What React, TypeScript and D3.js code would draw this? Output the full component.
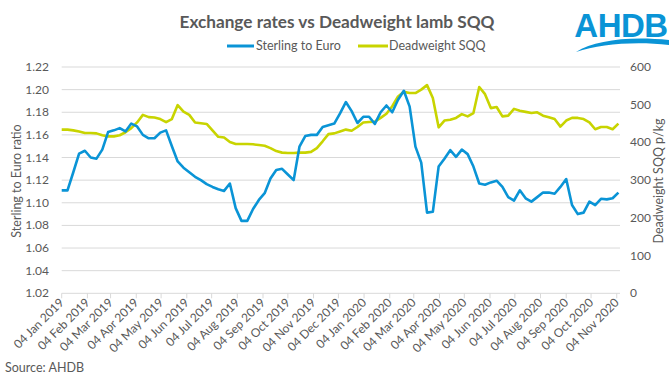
import React from "react";
import * as d3 from "d3";

const startDate = new Date(2019, 0, 4);
const endDate = new Date(2020, 10, 6);

const sterlingEuro = [
  1.111, 1.111, 1.127, 1.1435, 1.146, 1.14, 1.139, 1.147, 1.1625, 1.164,
  1.166, 1.163, 1.17, 1.1675, 1.16, 1.157, 1.157, 1.162, 1.164, 1.15,
  1.1365, 1.131, 1.127, 1.123, 1.12, 1.1165, 1.114, 1.112, 1.1105, 1.117,
  1.0953, 1.084, 1.084, 1.0945, 1.1025, 1.1085, 1.1215, 1.129, 1.13, 1.125,
  1.12, 1.1496, 1.159, 1.16, 1.16, 1.167, 1.1685, 1.17, 1.179, 1.189,
  1.181, 1.1705, 1.176, 1.176, 1.1697, 1.18, 1.186, 1.18, 1.191, 1.199,
  1.185, 1.1496, 1.1355, 1.0913, 1.092, 1.132, 1.139, 1.1465, 1.1406, 1.147,
  1.143, 1.132, 1.117, 1.116, 1.118, 1.1195, 1.114, 1.105, 1.102, 1.111,
  1.104, 1.101, 1.105, 1.109, 1.109, 1.108, 1.114, 1.121, 1.098, 1.09,
  1.0913, 1.101, 1.098, 1.1035, 1.103, 1.104, 1.109,
];

const deadweightSQQ = [
  434, 434, 432, 429, 425, 425, 424, 419, 416, 416,
  419, 427, 438, 453, 473, 467, 466, 462, 454, 462,
  499, 482, 473, 453, 451, 449, 432, 415, 413, 401,
  396, 396, 396, 395, 393, 391, 385, 377, 373, 372,
  372, 373, 373, 375, 385, 403, 422, 424, 429, 434,
  431, 441, 453, 454, 455, 465, 476, 496, 522, 534,
  531, 531, 540, 552, 518, 440, 458, 460, 465, 475,
  469, 478, 547, 528, 491, 494, 469, 471, 489, 484,
  481, 478, 480, 471, 467, 462, 442, 458, 465, 465,
  462, 453, 435, 441, 441, 435, 450,
];

const dates = sterlingEuro.map((_, i) => d3.timeDay.offset(startDate, i * 7));
const tickDates = d3.timeMonth
  .range(new Date(2019, 0, 1), new Date(2020, 11, 1))
  .map((m) => d3.timeDay.offset(m, 3));
const leftTicks = [1.02, 1.04, 1.06, 1.08, 1.1, 1.12, 1.14, 1.16, 1.18, 1.2, 1.22];
const rightTicks = [0, 100, 200, 300, 400, 500, 600];

const seriesNames = ["Sterling to Euro", "Deadweight SQQ"];
const colors = ["#0A94D6", "#C8D400"];

const FONT = "Lato, 'Open Sans', sans-serif";
const GREY = "#595959";

export default function App() {
  const left = 61.7;
  const right = 618.4;
  const top = 67;
  const bottom = 293.3;

  const x = d3.scaleTime().domain([startDate, endDate]).range([left, right]);
  const yL = d3.scaleLinear().domain([1.02, 1.22]).range([bottom, top]);
  const yR = d3.scaleLinear().domain([0, 600]).range([bottom, top]);

  const blueLine = d3
    .line<number>()
    .x((_, i) => x(dates[i]))
    .y((d) => yL(d))(sterlingEuro) as string;
  const greenLine = d3
    .line<number>()
    .x((_, i) => x(dates[i]))
    .y((d) => yR(d))(deadweightSQQ) as string;

  const fmt = d3.timeFormat("%d %b %Y");

  return (
    <svg
      width={672}
      height={378}
      style={{ position: "absolute", left: 0, top: 0, background: "#fff" }}
      fontFamily={FONT}
    >
      <rect width={672} height={378} fill="#fff" />
      {/* Title */}
      <text x={337} y={28} textAnchor="middle" fontSize={17.2} fontWeight={700} fill={GREY}>
        Exchange rates vs Deadweight lamb SQQ
      </text>

      {/* Logo */}
      <text x={621} y={37} textAnchor="middle" fontSize={33} fontWeight={700} fill="#0A94D6"
        fontFamily="'Liberation Sans', Arial, sans-serif" letterSpacing={-0.5}>
        AHDB
      </text>
      <path d="M576,52 C595,40 630,36 669,40 L669,45 C635,41 600,44 576,52 Z" fill="#0A94D6" />

      {/* Legend */}
      <g fontSize={12.5} fill={GREY}>
        <line x1={227} x2={254} y1={46} y2={46} stroke={colors[0]} strokeWidth={3} />
        <text x={256} y={50}>{seriesNames[0]}</text>
        <line x1={358} x2={388} y1={46} y2={46} stroke={colors[1]} strokeWidth={3} />
        <text x={389} y={50}>{seriesNames[1]}</text>
      </g>

      {/* Gridlines */}
      {leftTicks.map((t) => (
        <line key={t} x1={left} x2={620} y1={yL(t)} y2={yL(t)} stroke="#d9d9d9" strokeWidth={1} />
      ))}
      {/* X ticks */}
      {tickDates.map((d, i) => (
        <line key={i} x1={x(d)} x2={x(d)} y1={bottom} y2={bottom + 5} stroke="#d9d9d9" strokeWidth={1} />
      ))}

      {/* Left axis labels */}
      <g fontSize={12} fill={GREY} textAnchor="end">
        {leftTicks.map((t) => (
          <text key={t} x={49} y={yL(t) + 4}>{t.toFixed(2)}</text>
        ))}
      </g>
      {/* Right axis labels */}
      <g fontSize={12} fill={GREY} textAnchor="start">
        {rightTicks.map((t) => (
          <text key={t} x={630} y={yR(t) + 4}>{t}</text>
        ))}
      </g>
      {/* Axis titles */}
      <text transform="translate(21,181) rotate(-90)" textAnchor="middle" fontSize={12.5} fill={GREY}>
        Sterling to Euro ratio
      </text>
      <text transform="translate(663,181) rotate(-90)" textAnchor="middle" fontSize={12.5} fill={GREY}>
        Deadweight SQQ p/kg
      </text>

      {/* X labels */}
      <g fontSize={12} fill={GREY} textAnchor="end">
        {tickDates.map((d, i) => (
          <text key={i} transform={`translate(${x(d) + 3},${bottom + 10}) rotate(-45)`}>
            {fmt(d)}
          </text>
        ))}
      </g>

      {/* Lines */}
      <path d={greenLine} fill="none" stroke={colors[1]} strokeWidth={2.6} strokeLinejoin="round" />
      <path d={blueLine} fill="none" stroke={colors[0]} strokeWidth={2.6} strokeLinejoin="round" />

      {/* Source */}
      <text x={5} y={372} fontSize={12.5} fill={GREY}>Source: AHDB</text>
    </svg>
  );
}
